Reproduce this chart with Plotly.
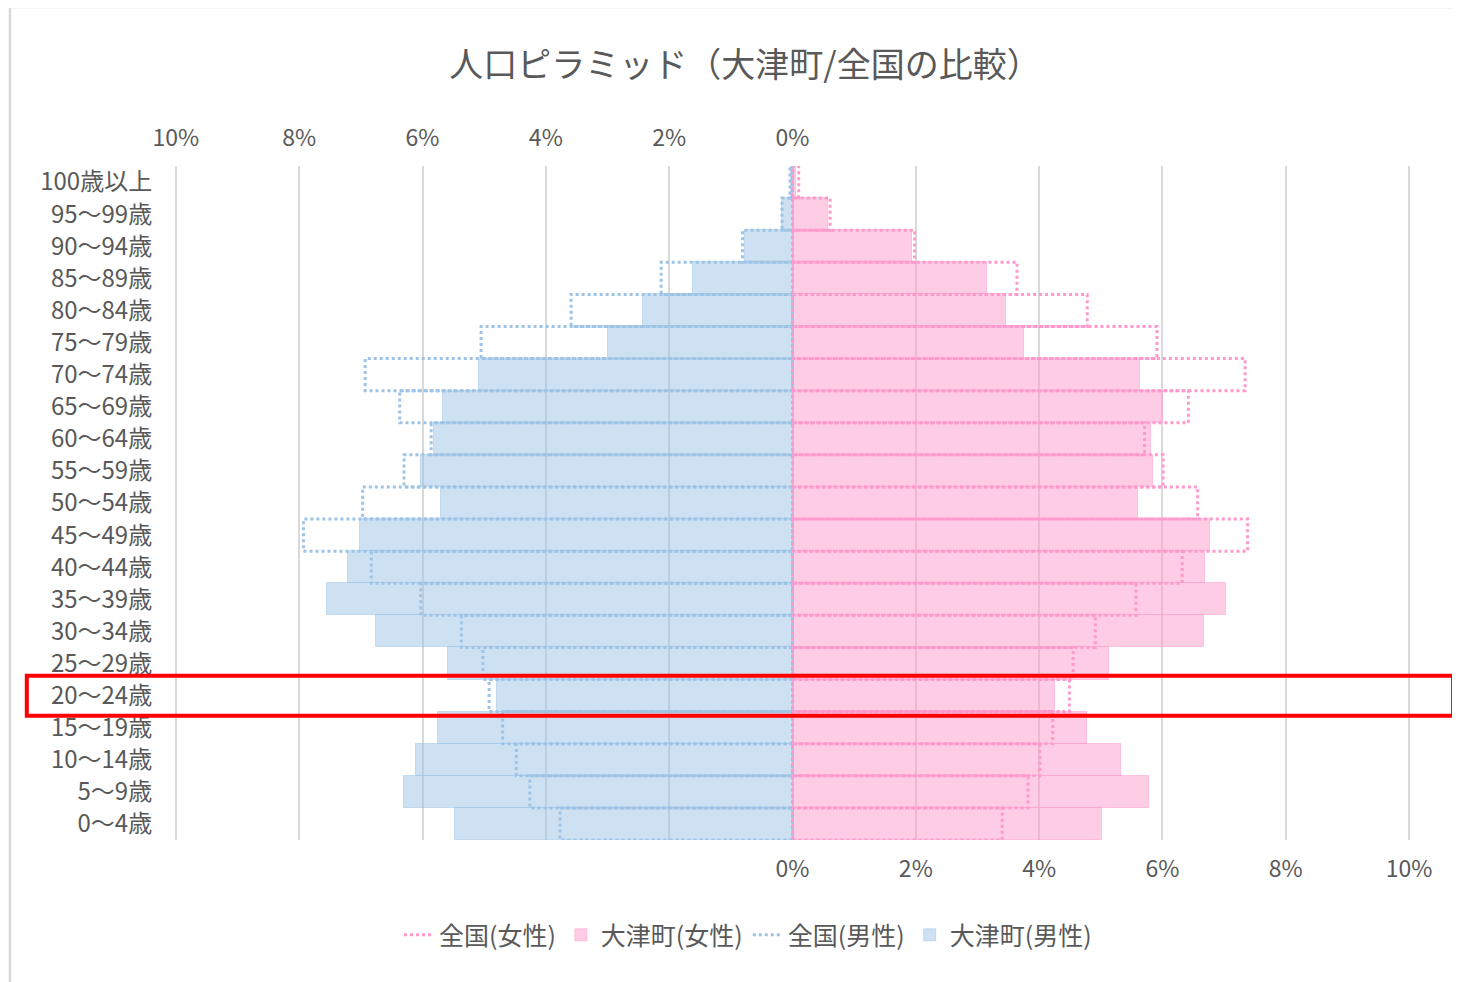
import plotly.graph_objects as go

# Categories, top to bottom as displayed
categories = ["100歳以上", "95～99歳", "90～94歳", "85～89歳", "80～84歳", "75～79歳",
              "70～74歳", "65～69歳", "60～64歳", "55～59歳", "50～54歳", "45～49歳",
              "40～44歳", "35～39歳", "30～34歳", "25～29歳", "20～24歳", "15～19歳",
              "10～14歳", "5～9歳", "0～4歳"]

otsu_male = [0.03, 0.17, 0.77, 1.62, 2.43, 3.00, 5.09, 5.66, 5.82, 6.02, 5.70, 7.01,
             7.21, 7.55, 6.75, 5.58, 4.80, 5.75, 6.11, 6.30, 5.48]
national_male = [0.04, 0.17, 0.81, 2.13, 3.59, 5.05, 6.93, 6.37, 5.86, 6.30, 6.97, 7.93,
                 6.83, 6.03, 5.37, 5.02, 4.92, 4.70, 4.48, 4.26, 3.77]
otsu_female = [0.06, 0.57, 1.94, 3.15, 3.47, 3.76, 5.64, 6.01, 5.82, 5.85, 5.61, 6.77,
               6.69, 7.03, 6.67, 5.14, 4.25, 4.77, 5.32, 5.78, 5.02]
national_female = [0.10, 0.61, 1.98, 3.64, 4.78, 5.91, 7.34, 6.42, 5.71, 6.01, 6.57, 7.38,
                   6.32, 5.57, 4.91, 4.55, 4.49, 4.22, 4.01, 3.82, 3.40]

top_ticks = [-10, -8, -6, -4, -2, 0]
top_labels = ["10%", "8%", "6%", "4%", "2%", "0%"]
bottom_ticks = [0, 2, 4, 6, 8, 10]
bottom_labels = ["0%", "2%", "4%", "6%", "8%", "10%"]
highlight = "20～24歳"

n = len(categories)
ypos = [n - 1 - i for i in range(n)]

BLUE_FILL = "rgba(157,195,230,0.5)"
PINK_FILL = "rgba(255,153,204,0.5)"
BLUE_LINE = "#9DC3E6"
PINK_LINE = "#FF99CC"
TXT = "#595959"
JP = "Noto Sans CJK JP, sans-serif"
NUM = "Liberation Sans Narrow, Noto Sans CJK JP, sans-serif"
XR = [-10.03, 10.03]


def outline(values, sign):
    xs, ys = [], []
    for v, y in zip(values, ypos):
        xs += [0, sign * v, sign * v, 0, 0, None]
        ys += [y - 0.5, y - 0.5, y + 0.5, y + 0.5, y - 0.5, None]
    return xs, ys


fig = go.Figure()

fig.add_trace(go.Bar(
    y=ypos, x=[-v for v in otsu_male], orientation="h", width=1,
    name="大津町(男性)", marker=dict(color=BLUE_FILL, line=dict(color="rgba(157,195,230,0.5)", width=1)),
    legendrank=4))
fig.add_trace(go.Bar(
    y=ypos, x=otsu_female, orientation="h", width=1,
    name="大津町(女性)", marker=dict(color=PINK_FILL, line=dict(color="rgba(255,153,204,0.5)", width=1)),
    legendrank=2))

xm, ym = outline(national_male, -1)
fig.add_trace(go.Scatter(
    x=xm, y=ym, mode="lines", name="全国(男性)",
    line=dict(color=BLUE_LINE, width=3, dash="dot"), legendrank=3))
xf, yf = outline(national_female, 1)
fig.add_trace(go.Scatter(
    x=xf, y=yf, mode="lines", name="全国(女性)",
    line=dict(color=PINK_LINE, width=3, dash="dot"), legendrank=1))

# invisible trace to activate the top axis
fig.add_trace(go.Scatter(x=[-10, 0], y=[0, 0], xaxis="x2", mode="markers",
                         marker=dict(opacity=0), showlegend=False, hoverinfo="skip"))

hy = ypos[categories.index(highlight)]
fig.add_shape(type="rect", xref="paper", yref="y",
              x0=-0.119, x1=1.034, y0=hy - 0.63, y1=hy + 0.62,
              line=dict(color="#FF0000", width=4), fillcolor="rgba(0,0,0,0)")
# chart frame (partly cropped)
fig.add_shape(type="rect", xref="paper", yref="paper",
              x0=-0.1326, x1=1.08, y0=-0.35, y1=1.236,
              line=dict(color="#D9D9D9", width=2.5), fillcolor="rgba(0,0,0,0)", layer="below")

W, H = 1452, 974
fig.update_layout(
    width=W, height=H,
    margin=dict(l=166, r=49, t=158, b=142),
    paper_bgcolor="white", plot_bgcolor="white",
    barmode="overlay", bargap=0,
    title=dict(text="人口ピラミッド（大津町/全国の比較）", x=0.4616, xref="paper",
               y=1 - 57 / H, yanchor="middle",
               font=dict(family=JP, size=34, color=TXT)),
    xaxis=dict(range=XR, tickvals=bottom_ticks, ticktext=bottom_labels,
               showgrid=True, gridcolor="#D9D9D9", gridwidth=2, zeroline=False,
               showline=False, ticks="outside", ticklen=8, tickcolor="rgba(0,0,0,0)",
               tickfont=dict(family=NUM, size=23, color=TXT), fixedrange=True),
    xaxis2=dict(range=XR, overlaying="x", side="top", anchor="y",
                tickvals=top_ticks, ticktext=top_labels,
                showgrid=True, gridcolor="#D9D9D9", gridwidth=2, zeroline=False,
                showline=False, ticks="outside", ticklen=10, tickcolor="rgba(0,0,0,0)",
                tickfont=dict(family=NUM, size=23, color=TXT)),
    yaxis=dict(range=[-0.5, n - 0.5], tickvals=ypos, ticktext=categories,
               showgrid=False, zeroline=False, showline=False,
               ticks="outside", ticklen=16, tickcolor="rgba(0,0,0,0)",
               tickfont=dict(family=JP, size=24, color=TXT)),
    legend=dict(orientation="h", x=0.464, xanchor="center", y=-0.141, yanchor="middle",
                font=dict(family=JP, size=25, color=TXT), traceorder="normal",
                itemwidth=30),
    showlegend=True,
)

fig.write_html("out.html")
